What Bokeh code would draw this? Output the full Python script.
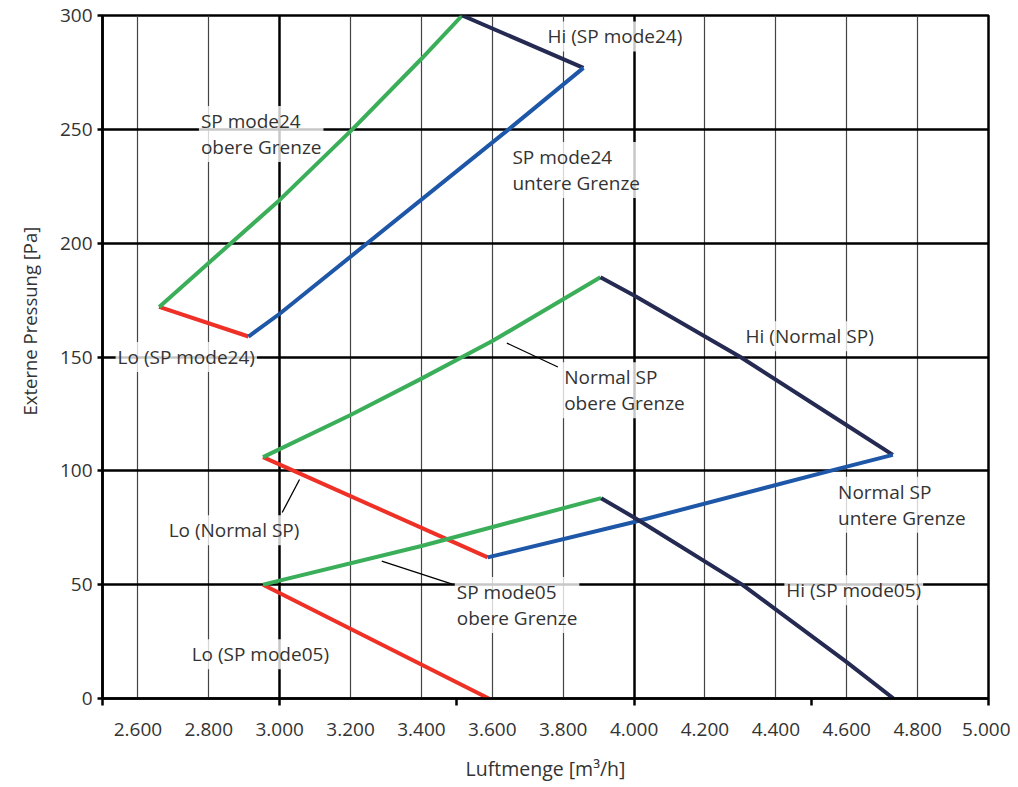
from bokeh.plotting import figure
from bokeh.models import FixedTicker, Grid, Title, ColumnDataSource
from bokeh.embed import file_html
from bokeh.resources import INLINE
from bokeh.core.properties import value

# ---- axes ----
x_ticks = [2600, 2800, 3000, 3200, 3400, 3600, 3800, 4000, 4200, 4400, 4600, 4800, 5000]
x_tick_labels = ["2.600", "2.800", "3.000", "3.200", "3.400", "3.600", "3.800",
                 "4.000", "4.200", "4.400", "4.600", "4.800", "5.000"]
x_minor = [2500, 3000, 3500, 4000, 4500, 5000]
y_ticks = [0, 50, 100, 150, 200, 250, 300]

# ---- SP mode24 ----
lo24_x = [2660, 2912]
lo24_y = [172, 159]
up24_x = [2660, 3000, 3205, 3400, 3515]
up24_y = [172, 219, 250, 281, 300]
hi24_x = [3515, 3857]
hi24_y = [300, 277]
low24_x = [2912, 3000, 3646, 3857]
low24_y = [159, 169, 250, 277]

# ---- Normal SP ----
loN_x = [2953, 3587]
loN_y = [106, 62]
upN_x = [2953, 3200, 3400, 3600, 3905]
upN_y = [106, 124.5, 140.5, 157, 185]
hiN_x = [3905, 4000, 4300, 4600, 4730]
hiN_y = [185, 177, 150, 120, 107]
lowN_x = [3587, 4000, 4553, 4730]
lowN_y = [62, 77.5, 100, 107]

# ---- SP mode05 ----
lo05_x = [2953, 3590]
lo05_y = [50, 0]
up05_x = [2953, 3400, 3907]
up05_y = [50, 67, 88]
hi05_x = [3907, 4000, 4305, 4600, 4732]
hi05_y = [88, 79.5, 50, 16, 0]

# ---- annotations ----
ann_text = ["Hi (SP mode24)", "SP mode24\nobere Grenze", "SP mode24\nuntere Grenze",
            "Lo (SP mode24)", "Normal SP\nobere Grenze", "Hi (Normal SP)",
            "Normal SP\nuntere Grenze", "Hi (SP mode05)", "SP mode05\nobere Grenze",
            "Lo (Normal SP)", "Lo (SP mode05)"]
ann_x = [3750, 2772, 3651, 2537, 3797, 4309, 4570, 4424, 3494, 2681, 2746]
ann_y = [290.8, 248, 232.1, 150, 135.4, 159.1, 85.1, 47.5, 41.1, 73.9, 19.4]

lead_x0 = [3641, 3288, 3007]
lead_y0 = [156.1, 60.3, 81.7]
lead_x1 = [3785, 3487, 3056]
lead_y1 = [145.6, 50.2, 96.2]

GREEN = "#3aae59"
RED = "#ee3026"
BLUE = "#1e57a8"
NAVY = "#252a52"
TXT = "#333333"
FONT = "Open Sans"

p = figure(width=1010, height=785, x_range=(2500, 5000), y_range=(0, 300),
           output_backend="svg", toolbar_location=None,
           min_border_left=102, min_border_right=22, min_border_top=15, min_border_bottom=87)

p.outline_line_color = "black"
p.outline_line_width = 2.5
p.outline_line_alpha = 1.0

# grids
p.xgrid.ticker = FixedTicker(ticks=[t for t in x_ticks if t not in (3000, 4000, 5000)])
p.xgrid.grid_line_color = "#444444"
p.xgrid.grid_line_width = 1.2
p.xgrid.grid_line_alpha = 1.0
p.add_layout(Grid(dimension=0, ticker=FixedTicker(ticks=[3000, 4000]),
                  grid_line_color="black", grid_line_width=2.5), "center")
p.ygrid.ticker = FixedTicker(ticks=[t for t in y_ticks if t not in (0, 300)])
p.ygrid.grid_line_color = "black"
p.ygrid.grid_line_width = 2.5
p.ygrid.grid_line_alpha = 1.0

# x axis
xa = p.xaxis[0]
xa.ticker = FixedTicker(ticks=x_ticks, minor_ticks=x_minor)
xa.major_label_overrides = {t: l for t, l in zip(x_ticks, x_tick_labels)}
xa.major_tick_out = 0
xa.major_tick_in = 0
xa.minor_tick_out = 7
xa.minor_tick_in = 0
xa.minor_tick_line_width = 2.5
xa.minor_tick_line_color = "black"
xa.axis_line_width = 2.5
xa.axis_line_color = "black"
xa.major_label_standoff = 17
xa.major_label_text_font = FONT
xa.major_label_text_font_size = "19px"
xa.major_label_text_color = TXT
xa.axis_label = "Luftmenge [m³/h]"
xa.axis_label_text_font = FONT
xa.axis_label_text_font_size = "19.5px"
xa.axis_label_text_font_style = "normal"
xa.axis_label_text_color = TXT
xa.axis_label_standoff = 16

# y axis
ya = p.yaxis[0]
ya.ticker = FixedTicker(ticks=y_ticks)
ya.major_tick_out = 5
ya.major_tick_in = 0
ya.major_tick_line_width = 2.5
ya.major_tick_line_color = "black"
ya.minor_tick_out = 0
ya.minor_tick_in = 0
ya.axis_line_width = 2.5
ya.axis_line_color = "black"
ya.major_label_standoff = 5
ya.major_label_text_font = FONT
ya.major_label_text_font_size = "19px"
ya.major_label_text_color = TXT

p.add_layout(Title(text="Externe Pressung [Pa]", align="left", vertical_align="top",
                   offset=275, standoff=10, padding=8, text_font=FONT,
                   text_font_size="18.5px", text_font_style="normal", text_color=TXT), "left")

# annotation texts (with translucent white background)
src = ColumnDataSource(dict(x=ann_x, y=ann_y, text=ann_text))
p.text(x="x", y="y", text="text", source=src,
       text_font=value(FONT), text_font_size="19px", text_color=TXT,
       text_align="left", text_baseline="middle", text_line_height=1.0,
       background_fill_color="white", background_fill_alpha=0.78, padding=2)

# leader lines
p.segment(x0=lead_x0, y0=lead_y0, x1=lead_x1, y1=lead_y1, line_color="black", line_width=1.3)

LW = 4
for xs, ys, c in [(lo24_x, lo24_y, RED), (up24_x, up24_y, GREEN), (hi24_x, hi24_y, NAVY),
                  (low24_x, low24_y, BLUE),
                  (loN_x, loN_y, RED), (upN_x, upN_y, GREEN), (hiN_x, hiN_y, NAVY),
                  (lowN_x, lowN_y, BLUE),
                  (lo05_x, lo05_y, RED), (up05_x, up05_y, GREEN), (hi05_x, hi05_y, NAVY)]:
    p.line(xs, ys, line_color=c, line_width=LW)

open("out.html", "w").write(file_html(p, INLINE))
